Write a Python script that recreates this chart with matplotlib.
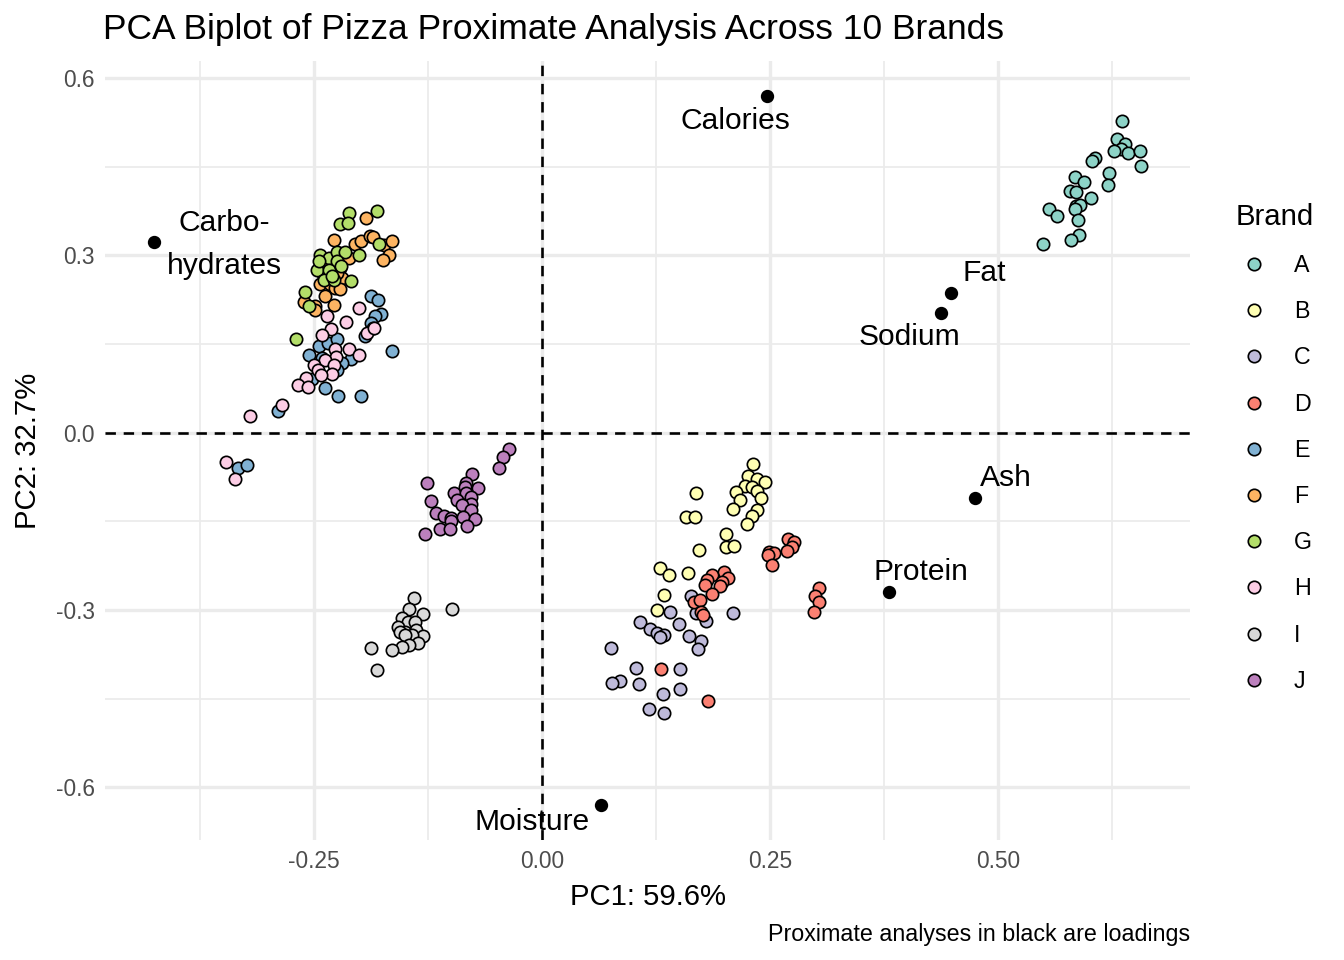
import matplotlib
matplotlib.use("Agg")
import matplotlib.pyplot as plt
from matplotlib.lines import Line2D

plt.rcParams["font.family"] = ["Liberation Sans", "DejaVu Sans"]

# PCA scores per brand (PC1, PC2)
a_pc1 = [0.635, 0.630, 0.639, 0.634, 0.627, 0.642, 0.655, 0.656, 0.606, 0.603, 0.621, 0.620, 0.584,
         0.594, 0.578, 0.585, 0.602, 0.556, 0.564, 0.585, 0.590, 0.584, 0.587, 0.549, 0.588, 0.580]
a_pc2 = [0.528, 0.497, 0.489, 0.480, 0.477, 0.473, 0.477, 0.451, 0.465, 0.460, 0.440, 0.420, 0.433,
         0.424, 0.409, 0.407, 0.398, 0.379, 0.366, 0.384, 0.385, 0.379, 0.360, 0.320, 0.335, 0.326]

b_pc1 = [0.231, 0.226, 0.235, 0.244, 0.222, 0.230, 0.236, 0.213, 0.240, 0.169, 0.217, 0.209, 0.235,
         0.230, 0.224, 0.158, 0.168, 0.202, 0.201, 0.210, 0.172, 0.129, 0.139, 0.160, 0.134, 0.126]
b_pc2 = [-0.053, -0.073, -0.078, -0.084, -0.090, -0.091, -0.099, -0.101, -0.111, -0.102, -0.114,
         -0.129, -0.131, -0.141, -0.154, -0.143, -0.142, -0.171, -0.193, -0.192, -0.198, -0.229,
         -0.241, -0.237, -0.275, -0.300]

c_pc1 = [0.163, 0.140, 0.209, 0.107, 0.118, 0.126, 0.134, 0.129, 0.150, 0.161, 0.174, 0.171, 0.180,
         0.169, 0.075, 0.103, 0.151, 0.085, 0.077, 0.106, 0.151, 0.133, 0.117, 0.134]
c_pc2 = [-0.276, -0.303, -0.305, -0.321, -0.332, -0.338, -0.342, -0.346, -0.324, -0.344, -0.352,
         -0.365, -0.319, -0.305, -0.364, -0.398, -0.399, -0.420, -0.423, -0.425, -0.433, -0.442,
         -0.467, -0.474]

d_pc1 = [0.270, 0.276, 0.274, 0.268, 0.249, 0.254, 0.248, 0.252, 0.199, 0.186, 0.204, 0.181, 0.197,
         0.179, 0.195, 0.186, 0.166, 0.173, 0.174, 0.176, 0.303, 0.299, 0.303, 0.298, 0.130, 0.182]
d_pc2 = [-0.180, -0.184, -0.194, -0.200, -0.201, -0.203, -0.207, -0.224, -0.235, -0.241, -0.245,
         -0.249, -0.252, -0.258, -0.259, -0.272, -0.286, -0.283, -0.303, -0.308, -0.263, -0.277,
         -0.286, -0.304, -0.400, -0.453]

e_pc1 = [-0.187, -0.180, -0.177, -0.183, -0.187, -0.185, -0.194, -0.164, -0.245, -0.235, -0.225,
         -0.255, -0.238, -0.224, -0.199, -0.289, -0.209, -0.219, -0.225, -0.252, -0.241, -0.333, -0.323]
e_pc2 = [0.232, 0.224, 0.201, 0.197, 0.186, 0.177, 0.163, 0.139, 0.147, 0.152, 0.158, 0.131, 0.076,
         0.062, 0.062, 0.036, 0.124, 0.118, 0.107, 0.091, 0.127, -0.060, -0.054]

f_pc1 = [-0.193, -0.228, -0.205, -0.198, -0.189, -0.185, -0.173, -0.164, -0.168, -0.174, -0.212,
         -0.221, -0.219, -0.243, -0.232, -0.227, -0.222, -0.261, -0.249, -0.238, -0.228, -0.249,
         -0.235, -0.225, -0.240]
f_pc2 = [0.364, 0.326, 0.319, 0.324, 0.333, 0.332, 0.317, 0.325, 0.300, 0.292, 0.296, 0.279, 0.262,
         0.251, 0.251, 0.245, 0.244, 0.221, 0.214, 0.231, 0.217, 0.208, 0.285, 0.270, 0.268]

g_pc1 = [-0.212, -0.222, -0.213, -0.181, -0.179, -0.243, -0.234, -0.225, -0.216, -0.201, -0.225,
         -0.247, -0.234, -0.239, -0.209, -0.228, -0.260, -0.255, -0.270, -0.220, -0.245, -0.230]
g_pc2 = [0.372, 0.354, 0.355, 0.376, 0.320, 0.300, 0.296, 0.305, 0.305, 0.301, 0.290, 0.275, 0.276,
         0.258, 0.256, 0.259, 0.238, 0.215, 0.158, 0.283, 0.290, 0.265]

h_pc1 = [-0.201, -0.236, -0.215, -0.231, -0.241, -0.192, -0.184, -0.227, -0.212, -0.201, -0.226,
         -0.238, -0.250, -0.228, -0.246, -0.230, -0.242, -0.259, -0.267, -0.257, -0.285, -0.320,
         -0.346, -0.337]
h_pc2 = [0.211, 0.198, 0.187, 0.176, 0.166, 0.169, 0.178, 0.141, 0.142, 0.132, 0.129, 0.123, 0.115,
         0.115, 0.106, 0.100, 0.098, 0.092, 0.080, 0.077, 0.047, 0.029, -0.049, -0.078]

i_pc1 = [-0.140, -0.099, -0.146, -0.131, -0.154, -0.147, -0.139, -0.158, -0.138, -0.150, -0.156,
         -0.130, -0.143, -0.150, -0.136, -0.146, -0.153, -0.165, -0.187, -0.181]
i_pc2 = [-0.280, -0.298, -0.299, -0.306, -0.313, -0.320, -0.320, -0.328, -0.333, -0.337, -0.337,
         -0.344, -0.342, -0.342, -0.356, -0.359, -0.363, -0.368, -0.364, -0.402]

j_pc1 = [-0.036, -0.043, -0.047, -0.077, -0.126, -0.083, -0.085, -0.070, -0.097, -0.083, -0.078,
         -0.093, -0.122, -0.078, -0.088, -0.078, -0.116, -0.108, -0.100, -0.087, -0.074, -0.100,
         -0.082, -0.112, -0.101, -0.128]
j_pc2 = [-0.028, -0.041, -0.059, -0.069, -0.085, -0.085, -0.092, -0.093, -0.102, -0.102, -0.108,
         -0.114, -0.115, -0.120, -0.122, -0.131, -0.135, -0.141, -0.145, -0.143, -0.146, -0.150,
         -0.158, -0.162, -0.163, -0.172]

brands = ["A", "B", "C", "D", "E", "F", "G", "H", "I", "J"]
brand_colors = ["#8DD3C7", "#FFFFB3", "#BEBADA", "#FB8072", "#80B1D3",
                "#FDB462", "#B3DE69", "#FCCDE5", "#D9D9D9", "#BC80BD"]
scores = [(a_pc1, a_pc2), (b_pc1, b_pc2), (c_pc1, c_pc2), (d_pc1, d_pc2), (e_pc1, e_pc2),
          (f_pc1, f_pc2), (g_pc1, g_pc2), (h_pc1, h_pc2), (i_pc1, i_pc2), (j_pc1, j_pc2)]

# loadings
load_names = ["Calories", "Carbo-\nhydrates", "Fat", "Sodium", "Ash", "Protein", "Moisture"]
load_pc1 = [0.246, -0.425, 0.448, 0.437, 0.474, 0.380, 0.064]
load_pc2 = [0.569, 0.322, 0.237, 0.203, -0.110, -0.269, -0.629]
label_offsets = [(-15.5, -12.5), (35, -1), (16.5, 10), (-15.5, -12), (15.5, 10), (16, 10), (-34, -8.5)]

fig = plt.figure(figsize=(1344 / 144, 960 / 144), dpi=144)
ax = fig.add_axes([105 / 1344, 1 - 840 / 960, (1190 - 105) / 1344, (840 - 61) / 960])

for (x, y), col in zip(scores, brand_colors):
    ax.scatter(x, y, s=38, c=col, edgecolors="black", linewidths=0.85, zorder=3)

ax.scatter(load_pc1, load_pc2, s=32, c="black", zorder=4)
for name, x, y, off in zip(load_names, load_pc1, load_pc2, label_offsets):
    ax.annotate(name, (x, y), xytext=off, textcoords="offset points",
                ha="center", va="center", fontsize=15, linespacing=1.7, zorder=5)

ax.axvline(0, color="black", lw=1.3, ls=(0, (4, 3)), zorder=2)
ax.axhline(0, color="black", lw=1.3, ls=(0, (4, 3)), zorder=2)

ax.set_xlim(-0.479, 0.710)
ax.set_ylim(-0.689, 0.629)
ax.set_xticks([-0.25, 0.0, 0.25, 0.50])
ax.set_xticklabels(["-0.25", "0.00", "0.25", "0.50"])
ax.set_yticks([-0.6, -0.3, 0.0, 0.3, 0.6])
ax.set_yticklabels(["-0.6", "-0.3", "0.0", "0.3", "0.6"])
ax.set_xticks([-0.375, -0.125, 0.125, 0.375, 0.625], minor=True)
ax.set_yticks([-0.45, -0.15, 0.15, 0.45], minor=True)
ax.grid(which="major", color="#EBEBEB", lw=1.7, zorder=0)
ax.grid(which="minor", color="#EBEBEB", lw=0.85, zorder=0)
ax.set_axisbelow(True)
ax.tick_params(which="both", length=0, labelsize=11.4, labelcolor="#4D4D4D", pad=5)
for s in ax.spines.values():
    s.set_visible(False)

ax.set_xlabel("PC1: 59.6%", fontsize=14.7, labelpad=5)
ax.set_ylabel("PC2: 32.7%", fontsize=14.7, labelpad=7)
fig.text(103 / 1344, 1 - 29 / 960, "PCA Biplot of Pizza Proximate Analysis Across 10 Brands",
         fontsize=17.7, ha="left", va="center")
fig.text(1190 / 1344, 1 - 934 / 960, "Proximate analyses in black are loadings",
         fontsize=11.6, ha="right", va="center")

handles = [Line2D([], [], ls="none", marker="o", markersize=6.2, markerfacecolor=c,
                  markeredgecolor="black", markeredgewidth=0.85) for c in brand_colors]
leg = fig.legend(handles, brands, title="Brand", loc="upper left",
                 bbox_to_anchor=(1215 / 1344, 1 - 182 / 960), frameon=False,
                 fontsize=11.6, title_fontsize=14.7, labelspacing=1.0,
                 handletextpad=0.9, handlelength=1.6)
leg._legend_box.align = "left"

fig.savefig("out.png", dpi=144)
